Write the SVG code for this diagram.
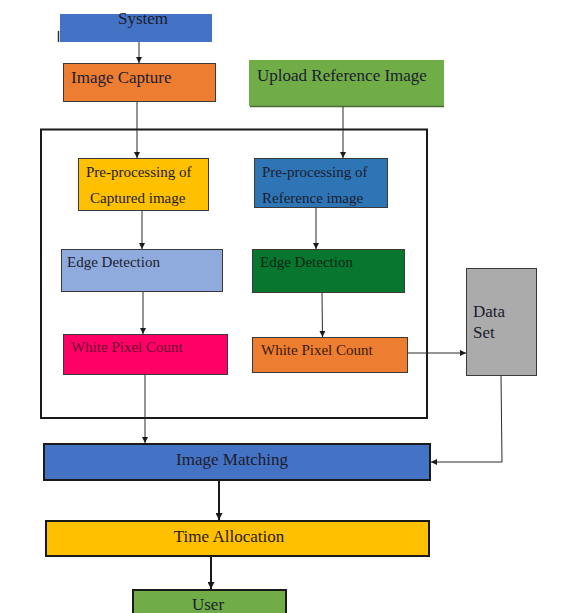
<svg xmlns="http://www.w3.org/2000/svg" width="562" height="613" viewBox="0 0 562 613">
<style>
  text { font-family: "Liberation Serif", "Times New Roman", serif; fill: #1c1c2e; }
  .t17 { font-size: 17px; }
  .t15 { font-size: 15px; }
  .box { stroke: #3a3a3a; stroke-width: 1; }
  .thick { stroke: #1a1a1a; stroke-width: 2; }
  .conn { fill: none; stroke: #2a2a2a; stroke-width: 1; }
  .conn2 { fill: none; stroke: #1a1a1a; stroke-width: 2; }
</style>
<defs>
  <marker id="ah" viewBox="0 0 10 10" refX="10" refY="5" markerWidth="6" markerHeight="6" markerUnits="userSpaceOnUse" orient="auto">
    <path d="M0,0 L10,5 L0,10 z" fill="#1a1a1a"/>
  </marker>
  <marker id="ah2" viewBox="0 0 10 10" refX="10" refY="5" markerWidth="7" markerHeight="7" markerUnits="userSpaceOnUse" orient="auto">
    <path d="M0,0 L10,5 L0,10 z" fill="#1a1a1a"/>
  </marker>
</defs>
<rect width="562" height="613" fill="#ffffff"/>

<g id="frame">
  <rect x="41" y="129.5" width="386" height="288.5" fill="none" stroke="#1a1a1a" stroke-width="2"/>
</g>

<g id="system">
  <rect x="60" y="14" width="152" height="28" fill="#4472C4"/>
  <line x1="58.5" y1="31" x2="58.5" y2="42" stroke="#333" stroke-width="1.5"/>
  <text class="t17" x="143" y="24" text-anchor="middle">System</text>
</g>

<g id="image-capture">
  <rect class="box" x="63.5" y="63.5" width="152" height="38" fill="#ED7D31"/>
  <text class="t17" x="71" y="83">Image Capture</text>
</g>

<g id="upload-reference">
  <rect x="249" y="60" width="195" height="46" fill="#70AD47"/>
  <line x1="250" y1="106.5" x2="444" y2="106.5" stroke="#4a6a3a" stroke-width="1.5"/>
  <text class="t17" x="257" y="81">Upload Reference Image</text>
</g>

<g id="preproc-captured">
  <rect class="box" x="78.5" y="158.5" width="130" height="52" fill="#FFC000"/>
  <text class="t15" x="86" y="177">Pre-processing of</text>
  <text class="t15" x="90" y="203">Captured image</text>
</g>

<g id="preproc-reference">
  <rect class="box" x="254.5" y="158.5" width="133" height="49" fill="#2E75B6"/>
  <text class="t15" x="262" y="177">Pre-processing of</text>
  <text class="t15" x="262" y="203">Reference image</text>
</g>

<g id="edge-left">
  <rect class="box" x="61.5" y="249.5" width="161" height="42" fill="#8FAADC"/>
  <text class="t15" x="67" y="267">Edge Detection</text>
</g>

<g id="edge-right">
  <rect class="box" x="252.5" y="249.5" width="152" height="43" fill="#07772F"/>
  <text class="t15" x="260" y="267" style="fill:#0d2414">Edge Detection</text>
</g>

<g id="wpc-left">
  <rect class="box" x="63.5" y="334.5" width="164" height="40" fill="#FF0066"/>
  <text class="t15" x="71" y="352" style="fill:#6b0030">White Pixel Count</text>
</g>

<g id="wpc-right">
  <rect class="box" x="252.5" y="337.5" width="155" height="35" fill="#ED7D31"/>
  <text class="t15" x="261" y="355" style="fill:#3a1a08">White Pixel Count</text>
</g>

<g id="data-set">
  <rect class="box" x="466.5" y="268.5" width="70" height="107" fill="#ABABAB"/>
  <text class="t17" x="473" y="317">Data</text>
  <text class="t17" x="473" y="338">Set</text>
</g>

<g id="image-matching">
  <rect class="thick" x="44" y="444" width="386" height="36" fill="#4472C4"/>
  <text class="t17" x="232" y="465" text-anchor="middle">Image Matching</text>
</g>

<g id="time-allocation">
  <rect class="thick" x="46" y="521" width="383" height="35" fill="#FFC000"/>
  <text class="t17" x="229" y="542" text-anchor="middle" style="fill:#2a1a08">Time Allocation</text>
</g>

<g id="user">
  <rect class="thick" x="133" y="590" width="153" height="30" fill="#70AD47"/>
  <text class="t17" x="208" y="610" text-anchor="middle">User</text>
</g>

<g id="connectors">
  <line class="conn" x1="139" y1="42" x2="139" y2="63" marker-end="url(#ah)"/>
  <line class="conn" x1="137" y1="102" x2="137" y2="158" marker-end="url(#ah)"/>
  <line class="conn" x1="343" y1="107" x2="343" y2="158" marker-end="url(#ah)"/>
  <line class="conn" x1="142" y1="211" x2="142" y2="249" marker-end="url(#ah)"/>
  <line class="conn" x1="316" y1="208" x2="316" y2="249" marker-end="url(#ah)"/>
  <line class="conn" x1="143" y1="292" x2="143" y2="334" marker-end="url(#ah)"/>
  <line class="conn" x1="322" y1="293" x2="322.5" y2="337" marker-end="url(#ah)"/>
  <line class="conn" x1="145" y1="375" x2="145" y2="443" marker-end="url(#ah)"/>
  <line class="conn" x1="408" y1="353" x2="466" y2="353" marker-end="url(#ah)"/>
  <polyline class="conn" points="501,376 502,462 431,462" marker-end="url(#ah)"/>
  <line class="conn2" x1="219" y1="481" x2="219" y2="520" marker-end="url(#ah2)"/>
  <line class="conn2" x1="211" y1="557" x2="211" y2="589" marker-end="url(#ah2)"/>
</g>
</svg>
